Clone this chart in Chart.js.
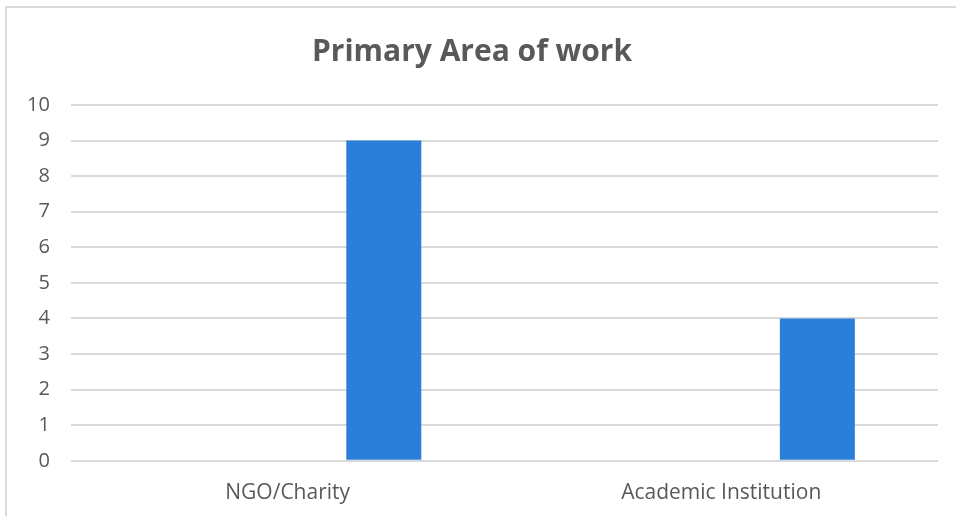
<!DOCTYPE html>
<html>
<head>
<meta charset="utf-8">
<script src="https://cdn.jsdelivr.net/npm/chart.js@4"></script>
<style>
  html, body { margin: 0; padding: 0; background: #fff; }
  #frame { position: absolute; left: 5px; top: 6px; width: 1000px; height: 600px; border: 2px solid #d9d9d9; box-sizing: border-box; }
  #wrap { position: absolute; left: 0; top: 0; width: 956px; height: 516px; }
</style>
</head>
<body>
<div id="frame"></div>
<div id="wrap"><canvas id="chart" width="956" height="516"></canvas></div>
<script>
// Chart data
const categories = ['NGO/Charity', 'Academic Institution'];
const blankSeries = [null, null];
const countSeries = [9, 4];
const yTicks = [0, 1, 2, 3, 4, 5, 6, 7, 8, 9, 10];

const textColor = '#595959';
const fontFamily = "'Open Sans', 'Noto Sans', sans-serif";

new Chart(document.getElementById('chart'), {
    type: 'bar',
    data: {
        labels: categories,
        datasets: [
            {
                label: 'Series1',
                data: blankSeries,
                backgroundColor: '#ed7d31'
            },
            {
                label: 'Series2',
                data: countSeries,
                backgroundColor: '#2a7fd8'
            }
        ]
    },
    options: {
        responsive: false,
        animation: false,
        datasets: {
            bar: { categoryPercentage: 0.887, barPercentage: 0.39 }
        },
        layout: {
            padding: { left: 6, right: 18, top: 0, bottom: -10 }
        },
        plugins: {
            legend: { display: false },
            tooltip: { enabled: false },
            title: {
                display: true,
                text: 'Primary Area of work',
                color: textColor,
                font: { family: fontFamily, size: 30, weight: 'bold' },
                padding: { top: 34, bottom: 35 }
            }
        },
        scales: {
            y: {
                min: 0,
                max: 10,
                afterBuildTicks: (axis) => { axis.ticks = yTicks.map(v => ({ value: v })); },
                border: { display: false },
                grid: { color: '#d9d9d9', lineWidth: 2, drawTicks: false },
                ticks: { color: textColor, font: { family: fontFamily, size: 20 }, padding: 21 }
            },
            x: {
                border: { display: false },
                grid: { display: false, drawTicks: false },
                ticks: { color: textColor, font: { family: fontFamily, size: 21 }, padding: 20 }
            }
        }
    }
});
</script>
</body>
</html>
